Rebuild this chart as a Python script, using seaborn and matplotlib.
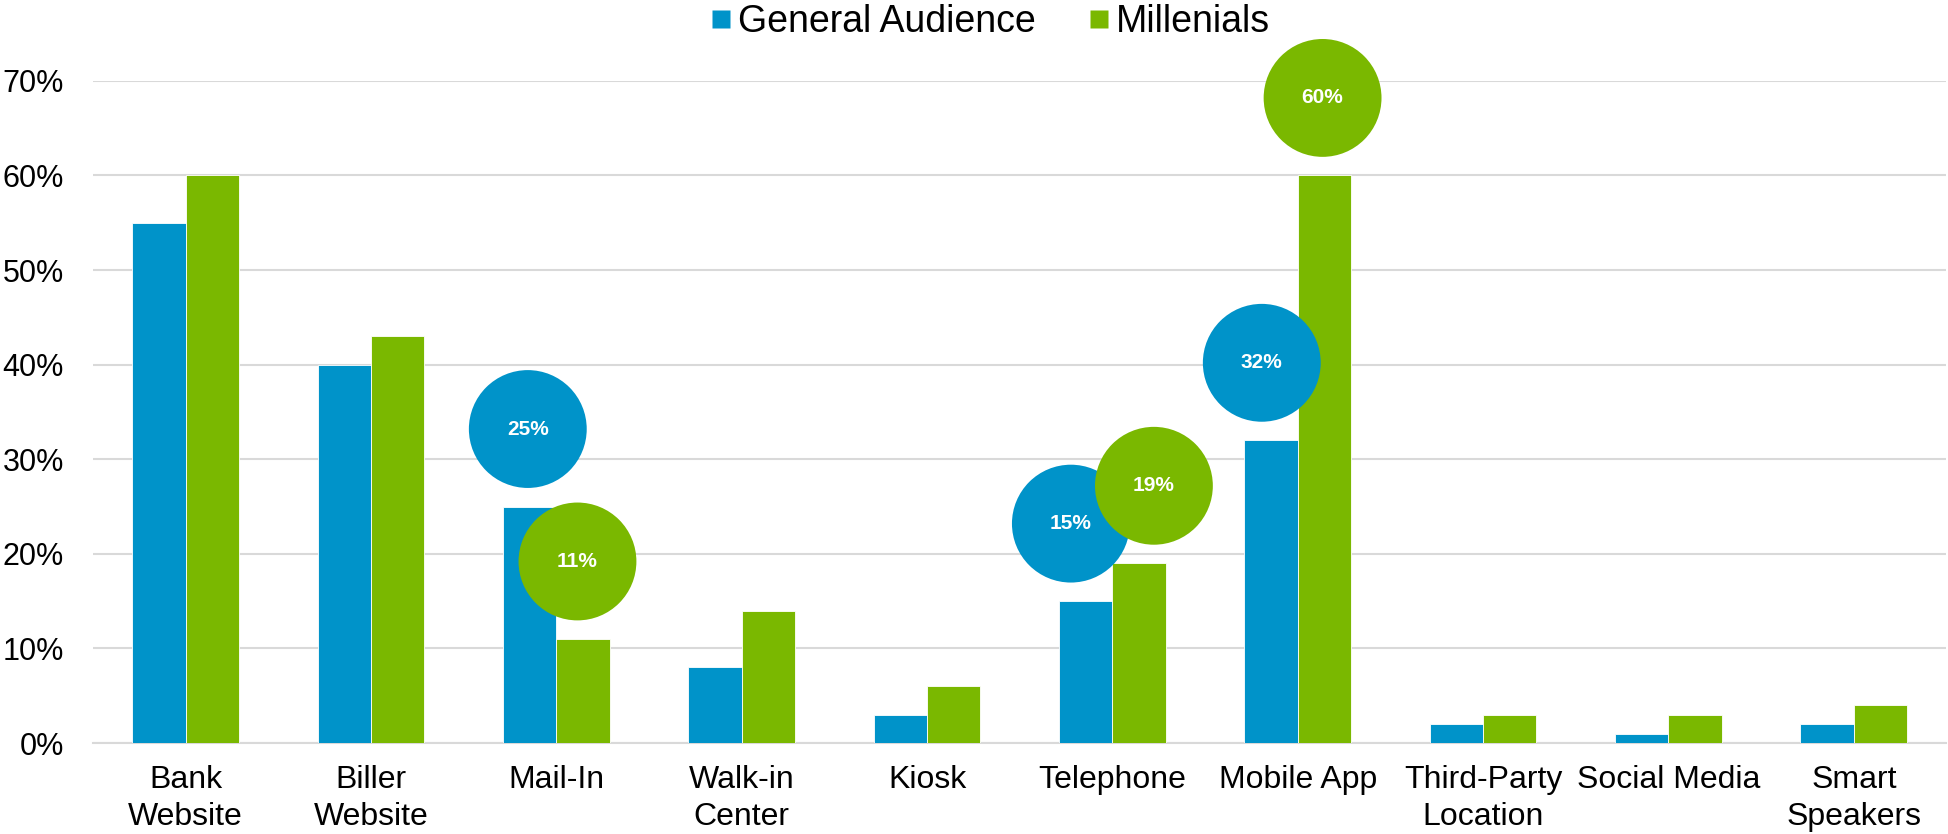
import matplotlib
matplotlib.use("Agg")
import matplotlib.pyplot as plt
from matplotlib.lines import Line2D
import seaborn as sns
import pandas as pd

categories = ["Bank\nWebsite", "Biller\nWebsite", "Mail-In", "Walk-in\nCenter", "Kiosk",
              "Telephone", "Mobile App", "Third-Party\nLocation", "Social Media", "Smart\nSpeakers"]
general = [55, 40, 25, 8, 3, 15, 32, 2, 1, 2]
millenials = [60, 43, 11, 14, 6, 19, 60, 3, 3, 4]
series = ["General Audience", "Millenials"]
yticks = [0, 10, 20, 30, 40, 50, 60, 70]

# Callout bubbles: (series index, category index, horizontal nudge)
callouts = [(0, 2, -0.01), (1, 2, -0.03), (0, 5, -0.08), (1, 5, 0.08), (0, 6, -0.05), (1, 6, -0.01)]

BLUE = "#0093C9"
GREEN = "#7AB800"
GRID = "#D9D9D9"

sns.set_theme(style="white")
plt.rcParams["font.family"] = ["Liberation Sans", "DejaVu Sans"]
plt.rcParams["text.color"] = "black"
plt.rcParams["xtick.color"] = "black"
plt.rcParams["ytick.color"] = "black"

df = pd.DataFrame({
    "channel": categories * 2,
    "share": general + millenials,
    "group": [series[0]] * len(categories) + [series[1]] * len(categories),
})

fig = plt.figure(figsize=(19.49, 8.34), dpi=100)
ax = fig.add_axes([0.0477, 0.109, 0.951, 0.794])

sns.barplot(data=df, x="channel", y="share", hue="group", order=categories,
            hue_order=series, palette=[BLUE, GREEN], saturation=1, width=0.576, gap=0,
            edgecolor="white", linewidth=0.6, legend=False, ax=ax, zorder=3)

ax.set_xlim(-0.5, len(categories) - 0.5)
ax.set_ylim(0, 70)
ax.set_yticks(yticks)
ax.set_yticklabels([f"{t}%" for t in yticks], fontsize=22)
for lbl in ax.get_xticklabels():
    lbl.set_linespacing(1.3)
ax.tick_params(axis="x", labelsize=23, length=0, pad=16, labelcolor="black")
ax.tick_params(axis="y", length=0, pad=21, labelcolor="black")
ax.set_xlabel("")
ax.set_ylabel("")
ax.yaxis.grid(True, color=GRID, linewidth=1.5, zorder=0)
ax.set_axisbelow(True)
for side in ["top", "right", "left"]:
    ax.spines[side].set_visible(False)
ax.spines["bottom"].set_color(GRID)
ax.spines["bottom"].set_linewidth(1.5)

bar_half = 0.576 / 4
values = [general, millenials]
colors = [BLUE, GREEN]
for s, c, dx in callouts:
    v = values[s][c]
    x = c + (2 * s - 1) * bar_half + dx
    y = v + 8.2
    ax.scatter([x], [y], s=7200, color=colors[s], edgecolors="none", zorder=5, clip_on=False)
    ax.text(x, y, f"{v}%", ha="center", va="center", color="white",
            fontsize=15, fontweight="bold", zorder=6, clip_on=False)

handles = [Line2D([0], [0], marker="s", linestyle="none", markersize=13,
                  markerfacecolor=col, markeredgecolor="none") for col in colors]
fig.legend(handles, series, loc="center", bbox_to_anchor=(0.507, 0.974), ncol=2,
           frameon=False, fontsize=27, handletextpad=0.05, columnspacing=1.3,
           handlelength=0.8, labelcolor="black")

fig.savefig("out.png", dpi=100)
